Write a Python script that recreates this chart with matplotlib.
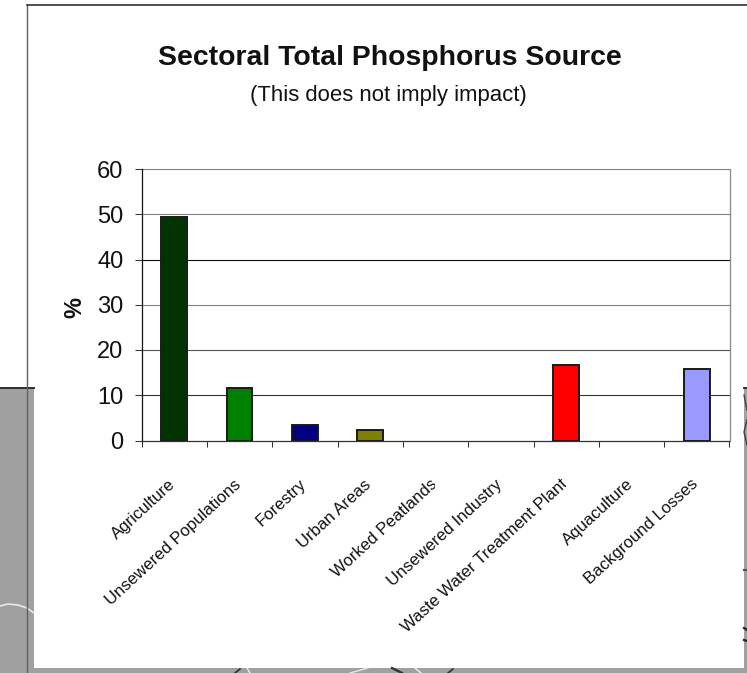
import matplotlib
matplotlib.use("Agg")
import matplotlib.pyplot as plt
from matplotlib.patches import Rectangle
from matplotlib.lines import Line2D
from matplotlib.transforms import Bbox

categories = ["Agriculture", "Unsewered Populations", "Forestry", "Urban Areas",
              "Worked Peatlands", "Unsewered Industry", "Waste Water Treatment Plant",
              "Aquaculture", "Background Losses"]
values = [49.5, 11.7, 3.4, 2.3, 0, 0, 16.7, 0, 15.8]
colors = ["#003300", "#008000", "#000080", "#808000", "#800080",
          "#008080", "#FF0000", "#FF6600", "#9999FF"]
yticks = [0, 10, 20, 30, 40, 50, 60]
grid_colors = ["#333333", "#333333", "#555555", "#808080", "#111111", "#808080", "#808080"]
label_clip_right = [None, 240, None, None, 435, None, 566, None, None]

W, H = 747, 673
GRAY = "#A0A0A0"
plt.rcParams["font.family"] = ["Liberation Sans", "DejaVu Sans"]
fig = plt.figure(figsize=(W / 100, H / 100), dpi=100, facecolor="white")


def fx(x):
    return x / W


def fy(y):
    return 1 - y / H


def seg(xs, ys, color, lw):
    fig.add_artist(Line2D([fx(v) for v in xs], [fy(v) for v in ys], color=color, lw=lw))


# remnants of the picture behind the chart
for (x0, y0, x1, y1) in [(0, 388, 34, 673), (744, 388, 747, 673), (0, 668, 747, 673)]:
    fig.add_artist(Rectangle((fx(x0), fy(y1)), (x1 - x0) / W, (y1 - y0) / H,
                             transform=fig.transFigure, fc=GRAY, ec="none"))
seg([0, 34], [388, 388], "#303030", 1.4)
seg([744, 747], [388, 388], "#303030", 1.4)
seg([0, 8, 18, 27, 34], [606, 604, 605, 608, 613], "#E8E8E8", 1.2)
seg([744, 747], [395, 410], "#404040", 1.0)
seg([747, 744, 747], [420, 432, 445], "#404040", 1.0)
seg([744, 747], [570, 570], "#505050", 1.5)
seg([744, 747], [628, 630], "#202020", 1.6)
seg([744, 747], [640, 641], "#202020", 1.6)
seg([235, 240], [673, 669], "#303030", 1.2)
seg([247, 250], [668, 673], "#F0F0F0", 1.0)
seg([350, 368], [673, 668], "#E8E8E8", 1.0)
seg([392, 402], [668, 673], "#303030", 1.6)
seg([415, 421], [668, 673], "#F0F0F0", 1.0)
seg([448, 453], [673, 669], "#303030", 1.2)
seg([27, 27], [5, 673], "#606060", 1.0)
seg([27, 747], [5, 5], "#202020", 1.1)

ax = fig.add_axes([fx(141.5), fy(440.5), (729.5 - 141.5) / W, (440.5 - 169) / H])
pos = list(range(len(categories)))
ax.bar(pos, values, width=0.395, color=colors, edgecolor="#1a1a1a",
       linewidth=[1.4 if v > 0 else 0 for v in values], zorder=3)
ax.set_xlim(-0.5, 8.5)
ax.set_ylim(0, 60)
ax.set_yticks(yticks)
ax.set_yticklabels([str(v) for v in yticks], fontsize=17, color="#111111")
ax.set_xticks([p - 0.5 for p in pos] + [8.5])
ax.set_xticklabels([])
ax.tick_params(axis="y", length=5, width=0.75, pad=8, color="#333333")
ax.tick_params(axis="x", length=4.3, width=0.75, color="#333333")
ax.grid(False)
for v, c in zip(yticks[1:], grid_colors[1:]):
    ax.axhline(v, color=c, lw=0.8, zorder=1, clip_on=False)
ax.spines["top"].set_visible(False)
ax.spines["right"].set_color("#888888")
ax.spines["left"].set_color("#111111")
ax.spines["bottom"].set_color("#333333")
for s in ax.spines.values():
    s.set_linewidth(0.9)
ax.patch.set_alpha(0)

for p, c, clip in zip(pos, categories, label_clip_right):
    t = ax.annotate(c, xy=(p + 0.05, 0), xycoords=("data", "axes fraction"),
                    xytext=(-3, -30), textcoords="offset points",
                    rotation=42.5, rotation_mode="anchor", ha="right", va="center",
                    fontsize=12.1, color="#111111", annotation_clip=False)
    if clip is not None:
        t.set_clip_on(True)
        t.set_clip_box(Bbox([[0, 0], [clip, H]]))

fig.text(fx(390), fy(58), "Sectoral Total Phosphorus Source", ha="center", va="center",
         fontsize=20.4, fontweight="bold", color="#111111")
fig.text(fx(388.5), fy(95), "(This does not imply impact)", ha="center", va="center",
         fontsize=15.9, color="#111111")
fig.text(fx(75), fy(307.5), "%", rotation=90, ha="center", va="center",
         fontsize=17, fontweight="bold", color="#111111")

fig.savefig("out.png", dpi=100, facecolor="white")
